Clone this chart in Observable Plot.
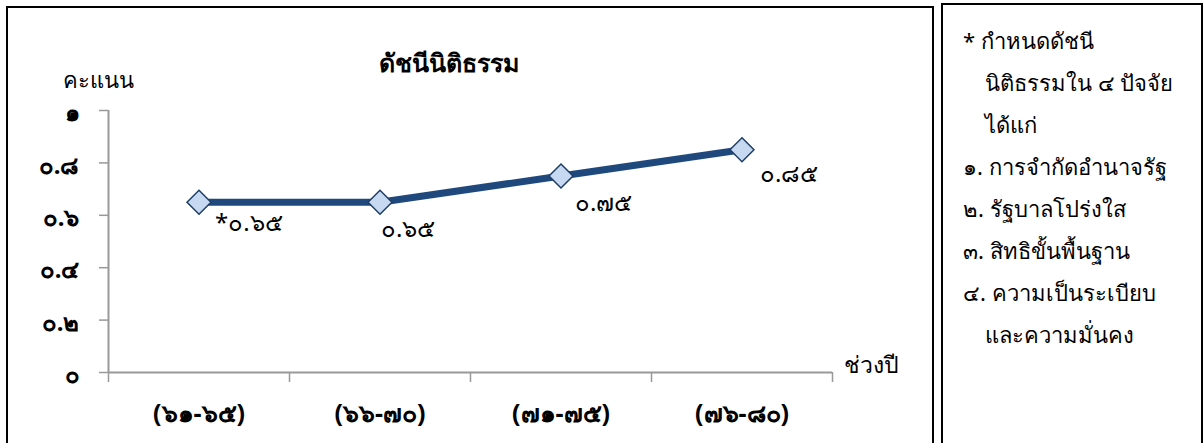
<!DOCTYPE html>
<html>
<head>
<meta charset="utf-8">
<script src="https://cdn.jsdelivr.net/npm/d3@7"></script>
<script src="https://cdn.jsdelivr.net/npm/@observablehq/plot@0.6"></script>
<style>
  html, body { margin: 0; padding: 0; background: #fff; }
  #wrap { position: relative; width: 1203px; height: 443px; overflow: hidden; font-family: "Noto Sans", "DejaVu Sans", sans-serif; }
  #chart { position: absolute; left: 0; top: 0; }
  .box { position: absolute; border: 2px solid #000; box-sizing: border-box; }
  #note { position: absolute; left: 941px; top: 3px; width: 262px; height: 460px; }
  .ln { position: absolute; font-size: 22px; color: #000; white-space: nowrap; line-height: 1; }
</style>
</head>
<body>
<div id="wrap">
  <div id="chart"></div>
  <div class="box" style="left:6px;top:6px;width:928px;height:460px;"></div>
  <div class="box" id="note"></div>
</div>
<script>
const categories = ["(๖๑-๖๕)", "(๖๖-๗๐)", "(๗๑-๗๕)", "(๗๖-๘๐)"];
const values = [0.65, 0.65, 0.75, 0.85];
const valueLabels = ["*๐.๖๕", "๐.๖๕", "๐.๗๕", "๐.๘๕"];
const yTicks = [0, 0.2, 0.4, 0.6, 0.8, 1];
const yTickLabels = ["๐", "๐.๒", "๐.๔", "๐.๖", "๐.๘", "๑"];
const title = "ดัชนีนิติธรรม";
const yLabel = "คะแนน";
const xLabel = "ช่วงปี";
const noteLines = ["* กำหนดดัชนี", "นิติธรรมใน ๔ ปัจจัย", "ได้แก่", "๑. การจำกัดอำนาจรัฐ", "๒. รัฐบาลโปร่งใส", "๓. สิทธิขั้นพื้นฐาน", "๔. ความเป็นระเบียบ", "และความมั่นคง"];
const noteIndent = [false, true, true, false, false, false, false, true];

const data = categories.map((c, i) => ({i, c, v: values[i], label: valueLabels[i]}));
const xPos = d => d.i + 0.5;
const bandEdges = d3.range(categories.length + 1);
const bandCenters = categories.map((c, i) => i + 0.5);

const labelOffsets = [[16, 21], [1, 27], [14, 27], [18, 25]];

const fontFamily = '"Noto Sans", "DejaVu Sans", sans-serif';

const chart = Plot.plot({
  width: 940,
  height: 443,
  marginLeft: 108,
  marginRight: 108,
  marginTop: 110,
  marginBottom: 71,
  style: {fontFamily, background: "transparent", overflow: "visible"},
  x: {domain: [0, categories.length]},
  y: {domain: [0, 1]},
  marks: [
    Plot.axisY({ticks: yTicks, tickFormat: () => "", tickSize: 9, stroke: "#999", strokeWidth: 1.5, label: null}),
    Plot.axisY({ticks: yTicks, tickFormat: d => yTickLabels[yTicks.indexOf(d)], tickSize: 0, tickPadding: 29, fontSize: 24, fontWeight: "bold", fill: "#000", dy: 3, label: null}),
    Plot.axisX({ticks: bandEdges, tickFormat: () => "", tickSize: 10, stroke: "#999", strokeWidth: 1.5, label: null}),
    Plot.axisX({ticks: bandCenters, tickFormat: d => categories[bandCenters.indexOf(d)], tickSize: 0, tickPadding: 32, fontSize: 25, fontWeight: "bold", fill: "#000", label: null}),
    Plot.ruleY([0], {stroke: "#999", strokeWidth: 2}),
    Plot.ruleX([0], {stroke: "#999", strokeWidth: 2}),
    Plot.line(data, {x: xPos, y: "v", stroke: "#1F497D", strokeWidth: 7}),
    Plot.dot(data, {x: xPos, y: "v", symbol: "diamond2", r: 10.8, fill: "#C6D9F1", stroke: "#1F3E66", strokeWidth: 1.5}),
    ...data.map((d, k) => Plot.text([d], {x: xPos, y: "v", text: "label", textAnchor: "start", dx: labelOffsets[k][0], dy: labelOffsets[k][1], fontSize: 24, fill: "#000"})),
    Plot.text([title], {frameAnchor: "top", dx: -22, dy: -56, fontSize: 25, fontWeight: "bold", fill: "#000"}),
    Plot.text([yLabel], {frameAnchor: "top-left", dx: -46, dy: -38, textAnchor: "start", fontSize: 22, fill: "#000"}),
    Plot.text([xLabel], {frameAnchor: "bottom-right", dx: 11, dy: 0, textAnchor: "start", fontSize: 23, fill: "#000"})
  ]
});
document.getElementById("chart").appendChild(chart);

const note = document.getElementById("note");
noteLines.forEach((t, k) => {
  const el = document.createElement("div");
  el.className = "ln";
  el.textContent = t;
  el.style.left = (noteIndent[k] ? 42 : 20) + "px";
  el.style.top = (24 + k * 42) + "px";
  note.appendChild(el);
});
</script>
</body>
</html>
